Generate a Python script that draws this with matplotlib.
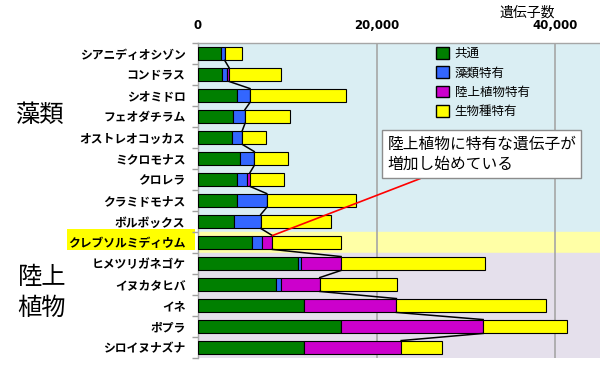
import numpy as np
import matplotlib
matplotlib.use("Agg")
import matplotlib.pyplot as plt
from matplotlib.patches import Rectangle, Patch
from matplotlib.ticker import FuncFormatter, FixedLocator

plt.rcParams['font.family'] = ['Noto Sans CJK JP', 'DejaVu Sans']

# データ (遺伝子数, 図から読み取り)
species = ["シアニディオシゾン", "コンドラス", "シオミドロ", "フェオダチラム",
           "オストレオコッカス", "ミクロモナス", "クロレラ", "クラミドモナス",
           "ボルボックス", "クレブソルミディウム", "ヒメツリガネゴケ", "イヌカタヒバ",
           "イネ", "ポプラ", "シロイヌナズナ"]
kyotsu = [2580, 2650, 4400, 3960, 3770, 4700, 4330, 4370, 4070, 6090,
          11170, 8700, 11910, 16020, 11870]
sorui = [410, 560, 1420, 1300, 1190, 1600, 1190, 3320, 2950, 1120,
         370, 630, 0, 0, 0]
rikujo = [0, 260, 0, 0, 0, 0, 300, 0, 0, 1120,
          4480, 4300, 10300, 15900, 10870]
seibutsu = [1900, 5790, 10720, 5040, 2690, 3740, 3850, 9970, 7910, 7690,
            16160, 8620, 16770, 9330, 4620]
series_names = ["共通", "藻類特有", "陸上植物特有", "生物種特有"]
series_colors = ["#007f00", "#3366ff", "#cc00cc", "#ffff00"]

n_algae = 9          # 藻類の行数
highlight = 9        # クレブソルミディウム

fig = plt.figure(figsize=(6, 3.8), dpi=100)
ax = fig.add_axes([198/600, 1 - 358/380, 402/600, (358-43)/380])

y = np.arange(len(species))
h = 0.66
left = np.zeros(len(species))
for vals, c in zip([kyotsu, sorui, rikujo, seibutsu], series_colors):
    ax.barh(y, vals, left=left, height=h, color=c, edgecolor="black",
            linewidth=0.8, zorder=3)
    left = left + np.array(vals)

# 系列線 (陸上植物特有の終端をつなぐ)
cum3 = np.array(kyotsu) + np.array(sorui) + np.array(rikujo)
for i in range(len(species) - 1):
    ax.plot([cum3[i], cum3[i+1]], [y[i] + h/2, y[i+1] - h/2],
            color="black", lw=1.1, zorder=4)

# 背景
ax.axhspan(-0.5, n_algae - 0.5, color="#daeef3", zorder=0)
ax.axhspan(highlight - 0.5, highlight + 0.5, color="#ffffa6", zorder=0)
ax.axhspan(highlight + 0.5, len(species) - 0.5, color="#e5e0ec", zorder=0)
ax.add_patch(Rectangle((-0.326, highlight - 0.62), 0.318, 0.98,
                       transform=ax.get_yaxis_transform(), clip_on=False,
                       facecolor="#ffff00", edgecolor="none", zorder=0))

ax.set_xlim(0, 45000)
ax.set_ylim(len(species) - 0.5, -0.5)
ax.xaxis.tick_top()
ax.set_xticks([0, 20000, 40000])
ax.xaxis.set_major_formatter(FuncFormatter(lambda v, p: f"{int(v):,}"))
for lab in ax.get_xticklabels():
    lab.set_fontweight("bold")
    lab.set_family("DejaVu Sans")
ax.tick_params(axis="x", length=0, pad=8, labelsize=8.5)
ax.grid(axis="x", color="#a6a6a6", lw=1.2, zorder=1)

ax.set_yticks(y)
ax.set_yticklabels(species, fontsize=8.5, fontweight="bold")
ax.yaxis.set_minor_locator(FixedLocator(np.arange(-0.5, len(species), 1)))
ax.tick_params(axis="y", which="major", length=0, pad=9)
ax.tick_params(axis="y", which="minor", length=4, color="#a0a0a0", width=1)

for s in ["right", "bottom"]:
    ax.spines[s].set_visible(False)
for s in ["left", "top"]:
    ax.spines[s].set_color("#a6a6a6")
    ax.spines[s].set_linewidth(1)

fig.text(527/600, 1 - 13/380, "遺伝子数", ha="center", va="center", fontsize=10)

# グループ名
fig.text(40/600, 1 - 115/380, "藻類", ha="center", va="center", fontsize=17.5)
fig.text(42/600, 1 - 292/380, "陸上\n植物", ha="center", va="center",
         fontsize=17.5, linespacing=1.25)

# 凡例
handles = [Patch(facecolor=c, edgecolor="black", lw=1) for c in series_colors]
fig.legend(handles, series_names, loc="upper left",
           bbox_to_anchor=(436/600, 1 - 47/380), frameon=False, fontsize=9,
           handlelength=1.05, handleheight=1.05, handletextpad=0.45,
           labelspacing=0.5, borderaxespad=0, borderpad=0)

# 注釈
ax.annotate("陸上植物に特有な遺伝子が\n増加し始めている",
            xy=(cum3[highlight], highlight - h/2), xycoords="data",
            xytext=(21200, 3.9), textcoords="data",
            ha="left", va="top", fontsize=11.3, linespacing=1.28, zorder=6,
            bbox=dict(boxstyle="square,pad=0.32", fc="white", ec="#8c8c8c", lw=1),
            arrowprops=dict(arrowstyle="-", color="red", lw=1.2,
                            relpos=(0.25, 0), shrinkA=0, shrinkB=0))

fig.savefig("out.png", dpi=100)
